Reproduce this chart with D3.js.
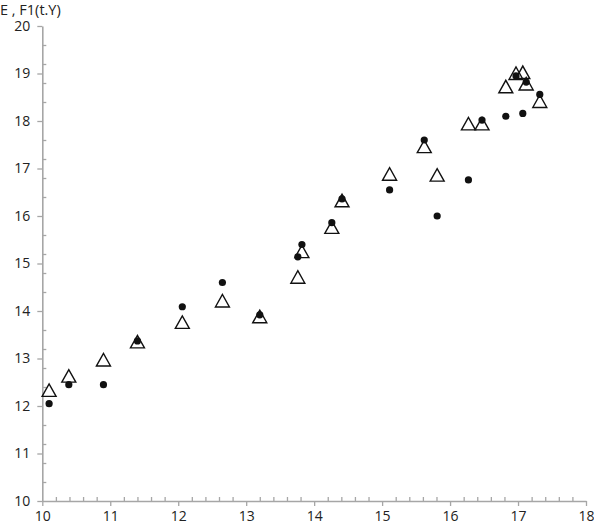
<!DOCTYPE html>
<html>
<head>
<meta charset="utf-8" />
<script src="https://d3js.org/d3.v7.min.js"></script>
<style>
  body { margin: 0; background: #fff; }
  svg text { font-family: "Open Sans", "Noto Sans", sans-serif; fill: #222; }
</style>
</head>
<body>
<svg id="chart" width="594" height="524"></svg>
<script>
// x values shared by both series
var xVals = [10.1, 10.39, 10.9, 11.4, 12.06, 12.65, 13.2, 13.76, 13.82, 14.26, 14.41,
             15.11, 15.62, 15.81, 16.27, 16.47, 16.82, 16.97, 17.07, 17.12, 17.32];
// E (filled dots)
var eVals = [12.05, 12.45, 12.45, 13.37, 14.09, 14.6, 13.92, 15.14, 15.4, 15.86, 16.36,
             16.55, 17.6, 16.0, 16.76, 18.02, 18.1, 18.95, 18.16, 18.82, 18.56];
// F1(t.Y) (open triangles)
var fVals = [12.33, 12.63, 12.97, 13.35, 13.76, 14.21, 13.88, 14.71, 15.25, 15.76, 16.32,
             16.88, 17.46, 16.86, 17.94, 17.94, 18.72, 19.0, 19.02, 18.78, 18.41];
var xTicks = [10, 11, 12, 13, 14, 15, 16, 17, 18];
var yTicks = [10, 11, 12, 13, 14, 15, 16, 17, 18, 19, 20];
var yTitle = "E , F1(t.Y)";

var svg = d3.select("#chart");
var x = d3.scaleLinear().domain([10, 18]).range([42.3, 586]);
var y = d3.scaleLinear().domain([10, 20]).range([501, 26]);
var axisColor = "#a6a6a6";

// minor ticks (inside)
var xMinor = d3.range(10, 18.001, 0.2).filter(v => Math.abs(v - Math.round(v)) > 1e-6);
var yMinor = d3.range(10, 20.001, 0.4).filter(v => Math.abs(v - Math.round(v)) > 1e-6);

svg.append("g")
  .attr("transform", "translate(0," + y(10) + ")")
  .call(d3.axisBottom(x).tickValues(xMinor).tickSize(-4).tickFormat(""))
  .call(g => g.select(".domain").remove())
  .call(g => g.selectAll("line").attr("stroke", axisColor).attr("stroke-width", 1.3));

svg.append("g")
  .attr("transform", "translate(" + x(10) + ",0)")
  .call(d3.axisLeft(y).tickValues(yMinor).tickSize(-4).tickFormat(""))
  .call(g => g.select(".domain").remove())
  .call(g => g.selectAll("line").attr("stroke", axisColor).attr("stroke-width", 1.3));

// major axes
svg.append("g")
  .attr("transform", "translate(0," + y(10) + ")")
  .call(d3.axisBottom(x).tickValues(xTicks).tickSize(5).tickSizeOuter(0).tickPadding(5).tickFormat(d3.format("d")))
  .call(g => g.select(".domain").attr("stroke", axisColor).attr("stroke-width", 1.6))
  .call(g => g.selectAll("line").attr("stroke", axisColor).attr("stroke-width", 1.3))
  .call(g => g.selectAll("text").attr("font-size", 14).attr("fill", "#222"));

svg.append("g")
  .attr("transform", "translate(" + x(10) + ",0)")
  .call(d3.axisLeft(y).tickValues(yTicks).tickSize(5).tickSizeOuter(0).tickPadding(7).tickFormat(d3.format("d")))
  .call(g => g.select(".domain").attr("stroke", axisColor).attr("stroke-width", 1.6))
  .call(g => g.selectAll("line").attr("stroke", axisColor).attr("stroke-width", 1.3))
  .call(g => g.selectAll("text").attr("font-size", 14).attr("fill", "#222"));

svg.append("text")
  .attr("x", 0)
  .attr("y", 14.5)
  .attr("font-size", 14.5)
  .text(yTitle);

// triangles
svg.append("g").selectAll("path")
  .data(xVals.map((v, i) => [v, fVals[i]]))
  .enter().append("path")
  .attr("d", d => {
    var cx = x(d[0]), cy = y(d[1]);
    return "M" + (cx - 7) + "," + (cy + 6) + "L" + cx + "," + (cy - 6.5) + "L" + (cx + 7) + "," + (cy + 6) + "Z";
  })
  .attr("fill", "none")
  .attr("stroke", "#111")
  .attr("stroke-width", 1.4);

// dots
svg.append("g").selectAll("circle")
  .data(xVals.map((v, i) => [v, eVals[i]]))
  .enter().append("circle")
  .attr("cx", d => x(d[0]))
  .attr("cy", d => y(d[1]))
  .attr("r", 3.6)
  .attr("fill", "#111");
</script>
</body>
</html>
